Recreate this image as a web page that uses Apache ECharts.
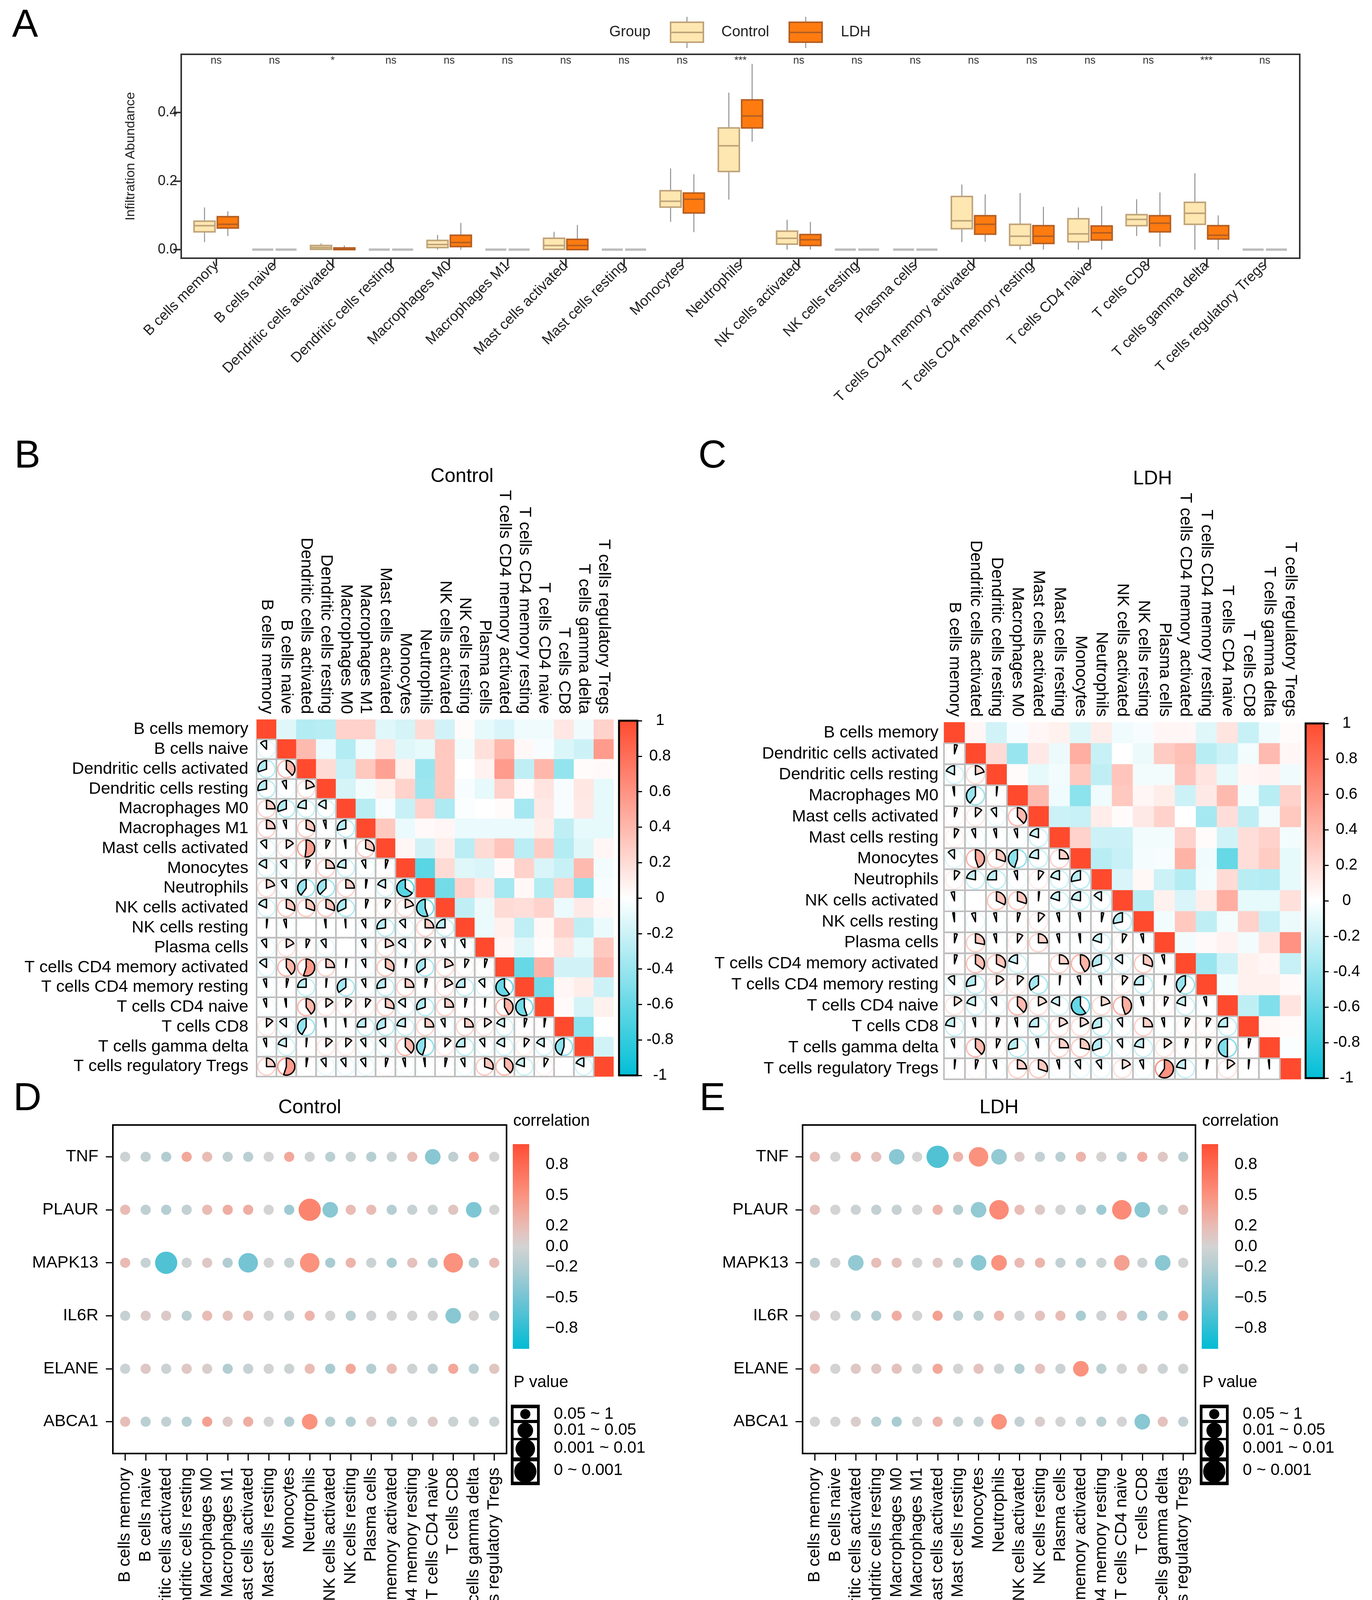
<!DOCTYPE html>
<html><head><meta charset="utf-8">
<script src="https://cdn.jsdelivr.net/npm/echarts@6/dist/echarts.min.js"></script>
<style>html,body{margin:0;padding:0;background:#fff;overflow:hidden}#c{width:3513px;height:4381px}</style>
</head><body><div id="c"></div><script>
// ---------------- DATA ----------------
const cellTypes = ['B cells memory','B cells naive','Dendritic cells activated','Dendritic cells resting','Macrophages M0','Macrophages M1','Mast cells activated','Mast cells resting','Monocytes','Neutrophils','NK cells activated','NK cells resting','Plasma cells','T cells CD4 memory activated','T cells CD4 memory resting','T cells CD4 naive','T cells CD8','T cells gamma delta','T cells regulatory Tregs'];
const sigLabels = ['ns','ns','*','ns','ns','ns','ns','ns','ns','***','ns','ns','ns','ns','ns','ns','ns','***','ns'];
// [lower whisker, Q1, median, Q3, upper whisker]
const controlBox = [[0.022,0.052,0.070,0.083,0.123],[0,0,0,0,0],[0,0.001,0.006,0.012,0.018],[0,0,0,0,0],[0,0.006,0.015,0.027,0.043],[0,0,0,0,0],[0,0.001,0.012,0.033,0.052],[0,0,0,0,0],[0.081,0.124,0.141,0.172,0.237],[0.146,0.228,0.303,0.355,0.458],[0,0.016,0.033,0.054,0.087],[0,0,0,0,0],[0,0,0,0,0],[0.022,0.061,0.084,0.155,0.190],[0,0.013,0.039,0.074,0.165],[0,0.023,0.046,0.090,0.123],[0.040,0.070,0.088,0.102,0.147],[0,0.074,0.106,0.138,0.223],[0,0,0,0,0]];
const ldhBox = [[0.040,0.063,0.074,0.096,0.112],[0,0,0,0,0],[0,0,0.002,0.005,0.012],[0,0,0,0,0],[0,0.009,0.021,0.042,0.078],[0,0,0,0,0],[0,0,0.012,0.030,0.072],[0,0,0,0,0],[0.051,0.107,0.147,0.165,0.220],[0.315,0.355,0.390,0.437,0.542],[0,0.012,0.029,0.044,0.081],[0,0,0,0,0],[0,0,0,0,0],[0.023,0.045,0.074,0.099,0.161],[0,0.018,0.039,0.070,0.125],[0,0.028,0.049,0.069,0.127],[0.009,0.052,0.077,0.099,0.167],[0,0.031,0.042,0.070,0.100],[0,0,0,0,0]];
const yTicksA = [0, 0.2, 0.4];

const cellsB = ['B cells memory','B cells naive','Dendritic cells activated','Dendritic cells resting','Macrophages M0','Macrophages M1','Mast cells activated','Monocytes','Neutrophils','NK cells activated','NK cells resting','Plasma cells','T cells CD4 memory activated','T cells CD4 memory resting','T cells CD4 naive','T cells CD8','T cells gamma delta','T cells regulatory Tregs'];
const corrB_upper = [
 [-0.12,-0.3,-0.28,0.25,0.25,-0.12,-0.17,0.2,-0.18,0.02,-0.1,-0.15,-0.06,-0.06,0.13,-0.06,0.25],
 [0.38,-0.08,-0.3,-0.06,0.15,-0.12,-0.1,0.3,-0.05,0.17,0.4,0.04,-0.03,-0.14,-0.2,0.55],
 [0.2,-0.22,0.3,0.52,0.08,-0.4,0.3,0.0,0.07,0.55,-0.25,0.4,-0.42,0.02,0.03],
 [-0.17,-0.05,0.08,0.25,-0.38,0.3,-0.03,-0.1,0.25,0.02,0.15,-0.03,0.13,-0.1],
 [-0.28,-0.03,-0.22,0.25,-0.32,-0.02,0.0,0.02,-0.35,0.12,-0.03,0.12,-0.1],
 [0.3,-0.08,0.03,0.05,-0.08,-0.08,-0.08,-0.08,0.1,-0.25,-0.1,-0.1],
 [0.05,-0.18,0.1,-0.27,0.2,0.32,-0.27,0.28,-0.3,-0.12,0.05],
 [-0.65,0.2,-0.12,-0.15,0.03,0.25,-0.15,-0.22,0.38,-0.05],
 [-0.55,0.25,0.12,-0.35,0.04,-0.3,0.25,-0.45,-0.03],
 [-0.25,-0.07,0.2,0.18,0.25,-0.08,0.12,0.04],
 [-0.08,0.08,-0.25,0.04,0.25,-0.25,-0.08],
 [0.05,-0.12,0.02,0.15,-0.1,0.3],
 [-0.6,0.42,-0.18,-0.18,0.38],
 [-0.55,0.05,0.1,-0.2],
 [0.03,-0.17,0.08],
 [-0.45,0.0],
 [-0.18]
];
const cellsC = ['B cells memory','Dendritic cells activated','Dendritic cells resting','Macrophages M0','Mast cells activated','Mast cells resting','Monocytes','Neutrophils','NK cells activated','NK cells resting','Plasma cells','T cells CD4 memory activated','T cells CD4 memory resting','T cells CD4 naive','T cells CD8','T cells gamma delta','T cells regulatory Tregs'];
const corrC_upper = [
 [0.05,-0.18,-0.03,0.05,0.08,-0.12,0.1,-0.06,-0.03,0.05,0.05,-0.12,0.15,-0.22,-0.06,0.02],
 [0.2,-0.4,0.12,-0.07,0.45,-0.22,0.0,-0.07,0.28,0.35,-0.28,-0.2,-0.05,0.38,0.05],
 [0.02,-0.1,-0.05,0.3,-0.25,0.32,-0.05,-0.05,0.32,0.15,-0.1,0.05,0.07,-0.06],
 [0.38,-0.06,-0.45,-0.06,0.3,0.05,0.1,-0.2,0.12,0.38,-0.05,-0.28,0.25],
 [-0.2,-0.22,0.1,0.02,0.12,0.25,0.0,-0.35,0.18,-0.25,-0.05,0.3],
 [0.25,-0.2,-0.2,-0.05,-0.05,0.25,0.02,-0.18,0.18,0.25,-0.05],
 [-0.28,-0.22,-0.04,-0.03,0.42,-0.06,-0.6,0.18,0.28,-0.1],
 [-0.15,0.04,-0.2,-0.3,-0.05,0.2,-0.28,-0.3,-0.1],
 [-0.28,0.08,-0.15,0.1,0.45,-0.1,-0.1,0.17],
 [-0.05,0.3,-0.25,-0.05,0.25,-0.22,-0.07],
 [-0.05,0.03,0.07,-0.05,0.15,0.6],
 [-0.4,-0.2,0.08,0.05,-0.22],
 [-0.05,0.08,0.08,0.03],
 [-0.25,-0.5,0.15],
 [0.04,0.02],
 [-0.02]
];
const corrBarTicks = [-1,-0.8,-0.6,-0.4,-0.2,0,0.2,0.4,0.6,0.8,1];

const genes = ['TNF','PLAUR','MAPK13','IL6R','ELANE','ABCA1'];
const ctrlTNF    = [-0.05,-0.12,-0.2,0.35,0.2,-0.12,-0.15,0.0,0.35,-0.03,-0.15,-0.08,-0.18,-0.08,0.18,-0.4,-0.12,0.35,0.0];
const ctrlPLAUR  = [0.2,-0.12,-0.18,-0.1,0.2,0.3,0.3,0.0,-0.3,0.6,-0.4,0.2,0.2,-0.18,-0.08,-0.05,0.12,-0.45,0.0];
const ctrlMAPK13 = [0.2,-0.08,-0.65,-0.03,0.1,-0.2,-0.5,0.0,-0.08,0.5,-0.25,0.25,-0.05,-0.25,0.15,-0.2,0.5,-0.2,0.2];
const ctrlIL6R   = [-0.08,0.08,0.08,-0.15,0.2,0.15,0.18,0.0,-0.06,0.25,0.0,-0.15,-0.03,0.0,0.0,-0.02,-0.4,0.02,-0.1];
const ctrlELANE  = [-0.05,0.1,-0.05,0.1,0.05,-0.2,-0.08,0.0,-0.05,0.2,-0.25,0.35,-0.18,0.2,-0.03,-0.12,0.35,-0.15,0.12];
const ctrlABCA1  = [0.18,-0.15,-0.1,-0.18,0.4,0.08,0.3,0.0,-0.2,0.5,-0.18,-0.2,0.1,-0.15,-0.05,0.08,-0.05,-0.05,-0.05];
// P value class: 0 = 0.05~1, 1 = 0.01~0.05, 2 = 0.001~0.01, 3 = 0~0.001
const ctrlTNF_p    = [0,0,0,0,0,0,0,0,0,0,0,0,0,0,0,1,0,0,0];
const ctrlPLAUR_p  = [0,0,0,0,0,0,0,0,0,3,1,0,0,0,0,0,0,1,0];
const ctrlMAPK13_p = [0,0,3,0,0,0,2,0,0,2,0,0,0,0,0,0,2,0,0];
const ctrlIL6R_p   = [0,0,0,0,0,0,0,0,0,0,0,0,0,0,0,0,1,0,0];
const ctrlELANE_p  = [0,0,0,0,0,0,0,0,0,0,0,0,0,0,0,0,0,0,0];
const ctrlABCA1_p  = [0,0,0,0,0,0,0,0,0,1,0,0,0,0,0,0,0,0,0];
const ldhTNF    = [0.2,0.0,0.25,0.15,-0.4,0.0,-0.65,0.25,0.5,-0.35,0.08,-0.1,-0.15,0.25,0.02,-0.15,0.3,0.1,-0.15];
const ldhPLAUR  = [0.15,0.0,-0.05,-0.1,-0.08,0.0,0.25,-0.2,-0.35,0.55,0.2,0.08,0.0,-0.1,-0.3,0.55,-0.4,-0.15,0.12];
const ldhMAPK13 = [-0.15,0.0,-0.35,0.18,0.15,0.0,0.1,-0.15,-0.4,0.5,0.2,0.25,-0.1,-0.15,-0.05,0.4,-0.05,-0.4,0.0];
const ldhIL6R   = [0.08,0.0,-0.15,-0.2,0.3,0.0,0.4,-0.15,-0.15,0.25,-0.03,0.15,0.2,-0.25,-0.03,0.15,-0.25,-0.18,0.35];
const ldhELANE  = [0.2,0.0,0.1,0.1,0.15,0.0,0.35,0.0,0.15,-0.05,-0.2,0.15,-0.05,0.5,-0.15,0.0,0.05,-0.05,-0.03];
const ldhABCA1  = [0.0,0.0,0.05,-0.18,-0.25,0.0,0.25,-0.08,-0.08,0.5,-0.1,0.05,0.0,-0.08,-0.15,0.0,-0.4,0.15,-0.1];
const ldhTNF_p    = [0,0,0,0,1,0,3,0,2,1,0,0,0,0,0,0,0,0,0];
const ldhPLAUR_p  = [0,0,0,0,0,0,0,0,1,2,0,0,0,0,0,2,1,0,0];
const ldhMAPK13_p = [0,0,1,0,0,0,0,0,1,1,0,0,0,0,0,1,0,1,0];
const ldhIL6R_p   = [0,0,0,0,0,0,0,0,0,0,0,0,0,0,0,0,0,0,0];
const ldhELANE_p  = [0,0,0,0,0,0,0,0,0,0,0,0,0,1,0,0,0,0,0];
const ldhABCA1_p  = [0,0,0,0,0,0,0,0,0,1,0,0,0,0,0,0,1,0,0];
const bubbleTicks = [-0.8,-0.5,-0.2,0,0.2,0.5,0.8];
const pLevels = ['0.05 ~ 1','0.01 ~ 0.05','0.001 ~ 0.01','0 ~ 0.001'];

// ---------------- HELPERS ----------------
const FONT = "'Liberation Sans', Arial, Helvetica, sans-serif";
function interp(stops, v){
  if (v <= stops[0][0]) return stops[0][1];
  for (let k=1;k<stops.length;k++){
    if (v <= stops[k][0]){
      const a=stops[k-1], b=stops[k], t=(v-a[0])/(b[0]-a[0]);
      return a[1].map((c,i)=>Math.round(c+(b[1][i]-c)*t));
    }
  }
  return stops[stops.length-1][1];
}
const corrStops = [[-1,[0,190,214]],[0,[255,255,255]],[1,[255,74,46]]];
const bubStops = [[-1,[0,188,212]],[-0.5,[116,196,212]],[-0.2,[178,205,210]],[0,[211,211,211]],[0.2,[233,187,180]],[0.5,[250,146,126]],[1,[255,77,51]]];
const rgb = a => 'rgb('+a.join(',')+')';
const corrColor = v => rgb(interp(corrStops, v));
const bubColor = v => rgb(interp(bubStops, v));
function fullMatrix(n, upper){
  const m=[]; for(let i=0;i<n;i++){m.push(new Array(n).fill(1));}
  for(let i=0;i<n;i++) for(let j=i+1;j<n;j++){ m[i][j]=m[j][i]=upper[i][j-i-1]; }
  return m;
}
function gradientStops(fn){
  const s=[]; for(let k=0;k<=40;k++){ const v=1-2*k/40; s.push({offset:k/40, color:fn(v)}); } return s;
}
const pSizes = [26, 40, 50, 57];

const grids=[], xAxes=[], yAxes=[], series=[], graphics=[];
function addGrid(g){grids.push(g); return grids.length-1;}
function txt(text, x, y, size, opt){
  opt = opt||{};
  graphics.push({type:'text', z:100, style:{text, x, y, fill:opt.color||'#000', fontSize:size, fontFamily:FONT,
    textAlign:opt.align||'center', textVerticalAlign:'middle', align:opt.align||'center', verticalAlign:'middle', fontWeight:opt.weight||'normal'}});
}
const noLine = {show:false, onZero:false};

// ---------------- PANEL A ----------------
const gA = addGrid({left:464, top:139, width:2864, height:522, show:true, borderColor:'#333', borderWidth:4, backgroundColor:'transparent'});
const idxA = cellTypes.map((_,i)=>i);
xAxes.push({gridIndex:gA, type:'value', min:-0.6, max:18.6, position:'bottom', axisLine:noLine, splitLine:{show:false},
  axisTick:{show:true, length:20, lineStyle:{color:'#333', width:4}, customValues:idxA},
  axisLabel:{customValues:idxA, formatter:v=>cellTypes[Math.round(v)], rotate:45, fontSize:37, color:'#222', margin:14, fontFamily:FONT}});
const xA = xAxes.length-1;
yAxes.push({gridIndex:gA, type:'value', min:-0.025, max:0.57, position:'left', axisLine:noLine, splitLine:{show:false},
  axisTick:{show:true, length:20, lineStyle:{color:'#333', width:4}, customValues:yTicksA},
  axisLabel:{customValues:yTicksA, formatter:v=>v.toFixed(1), fontSize:36, color:'#222', margin:10, fontFamily:FONT},
  name:'Infiltration Abundance', nameLocation:'middle', nameGap:112, nameTextStyle:{fontSize:34, color:'#222', fontFamily:FONT}});
const yA = yAxes.length-1;
function boxRender(fill, stroke, med){
  return function(params, api){
    const x=api.value(0), lo=api.value(1), q1=api.value(2), md=api.value(3), q3=api.value(4), hi=api.value(5);
    const hw = api.size([0.36,0])[0]/2;
    const pLo=api.coord([x,lo]), pQ1=api.coord([x,q1]), pMd=api.coord([x,md]), pQ3=api.coord([x,q3]), pHi=api.coord([x,hi]);
    const cx=pMd[0];
    if (hi-lo < 1e-9) return {type:'line', shape:{x1:cx-hw,y1:pMd[1],x2:cx+hw,y2:pMd[1]}, style:{stroke:'#BDBDBD', lineWidth:6}};
    return {type:'group', children:[
      {type:'line', shape:{x1:cx,y1:pHi[1],x2:cx,y2:pQ3[1]}, style:{stroke:'#8f8f8f', lineWidth:2.5}},
      {type:'line', shape:{x1:cx,y1:pQ1[1],x2:cx,y2:pLo[1]}, style:{stroke:'#8f8f8f', lineWidth:2.5}},
      {type:'rect', shape:{x:cx-hw, y:pQ3[1], width:2*hw, height:Math.max(pQ1[1]-pQ3[1],1.5)}, style:{fill:fill, stroke:stroke, lineWidth:4}},
      {type:'line', shape:{x1:cx-hw,y1:pMd[1],x2:cx+hw,y2:pMd[1]}, style:{stroke:med, lineWidth:4}}
    ]};
  };
}
series.push({type:'custom', name:'Control', xAxisIndex:xA, yAxisIndex:yA, encode:{x:0,y:[1,2,3,4,5]},
  data:controlBox.map((b,i)=>[i-0.2].concat(b)), renderItem:boxRender('#FFE7B1','#BFA37A','#BFA37A'), silent:true});
series.push({type:'custom', name:'LDH', xAxisIndex:xA, yAxisIndex:yA, encode:{x:0,y:[1,2,3,4,5]},
  data:ldhBox.map((b,i)=>[i+0.2].concat(b)), renderItem:boxRender('#FF7B10','#B55E22','#B55E22'), silent:true});
series.push({type:'custom', name:'sig', xAxisIndex:xA, yAxisIndex:yA, encode:{x:0,y:1},
  data:sigLabels.map((s,i)=>[i,0.551]), silent:true,
  renderItem:function(params, api){
    const c=api.coord([api.value(0), api.value(1)]);
    return {type:'text', style:{text:sigLabels[params.dataIndex], x:c[0], y:c[1], fill:'#333', fontSize:27, fontFamily:FONT, textAlign:'center', textVerticalAlign:'middle', align:'center', verticalAlign:'middle'}};
  }});
// legend A
txt('Group', 1560, 83, 38, {align:'left', color:'#222'});
function legendKey(x0, fill, stroke){
  graphics.push({type:'line', shape:{x1:x0+42,y1:43,x2:x0+42,y2:123}, style:{stroke:'#8f8f8f', lineWidth:2.5}});
  graphics.push({type:'rect', shape:{x:x0,y:57,width:84,height:51}, style:{fill, stroke, lineWidth:4}});
  graphics.push({type:'line', shape:{x1:x0,y1:83,x2:x0+84,y2:83}, style:{stroke, lineWidth:4}});
}
legendKey(1717, '#FFE7B1', '#BFA37A');
txt('Control', 1847, 83, 38, {align:'left', color:'#222'});
legendKey(2021, '#FF7B10', '#B55E22');
txt('LDH', 2153, 83, 38, {align:'left', color:'#222'});

// ---------------- PANELS B, C (correlation matrices) ----------------
function matrixPanel(cells, upper, left, top, size, barLeft, labelMargin){
  const n = cells.length;
  const m = fullMatrix(n, upper);
  const g = addGrid({left, top, width:size, height:size});
  xAxes.push({gridIndex:g, type:'category', data:cells, position:'top', axisLine:noLine, axisTick:{show:false}, splitLine:{show:false},
    axisLabel:{interval:0, rotate:90, fontSize:43, color:'#000', margin:14, fontFamily:FONT}});
  const xi = xAxes.length-1;
  yAxes.push({gridIndex:g, type:'category', data:cells, inverse:true, axisLine:noLine, axisTick:{show:false}, splitLine:{show:false},
    axisLabel:{interval:0, fontSize:43, color:'#000', margin:labelMargin, fontFamily:FONT}});
  const yi = yAxes.length-1;
  const all=[], lower=[];
  for(let i=0;i<n;i++) for(let j=0;j<n;j++){ all.push([j,i,m[i][j]]); if(j<i) lower.push([j,i,m[i][j]]); }
  series.push({type:'custom', xAxisIndex:xi, yAxisIndex:yi, encode:{x:0,y:1}, data:all, silent:true, z:2,
    renderItem:function(params, api){
      const j=api.value(0), i=api.value(1), r=api.value(2);
      const c=api.coord([j,i]), s=api.size([1,1]);
      if (j>=i) return {type:'rect', shape:{x:c[0]-s[0]/2-0.3, y:c[1]-s[1]/2-0.3, width:s[0]+0.6, height:s[1]+0.6}, style:{fill:corrColor(r)}};
      return {type:'rect', shape:{x:c[0]-s[0]/2, y:c[1]-s[1]/2, width:s[0], height:s[1]}, style:{fill:'#fff'}};
    }});
  series.push({type:'custom', xAxisIndex:xi, yAxisIndex:yi, encode:{x:0,y:1}, data:lower, silent:true, z:3,
    renderItem:function(params, api){
      const j=api.value(0), i=api.value(1), r=api.value(2);
      const c=api.coord([j,i]), s=api.size([1,1]);
      const col=corrColor(r), rad=Math.min(s[0],s[1])*0.43;
      const ch=[
        {type:'rect', shape:{x:c[0]-s[0]/2, y:c[1]-s[1]/2, width:s[0], height:s[1]}, style:{fill:'none', stroke:'#BEBEBE', lineWidth:4}},
        {type:'circle', shape:{cx:c[0], cy:c[1], r:rad}, style:{fill:'none', stroke:col, lineWidth:3.5}}
      ];
      if (Math.abs(r)>0.015){
        const a0=-Math.PI/2, a1=a0+(r>0?1:-1)*2*Math.PI*Math.abs(r);
        ch.push({type:'sector', shape:{cx:c[0], cy:c[1], r:rad, r0:0, startAngle:a0, endAngle:a1, clockwise:r>0}, style:{fill:col, stroke:'#000', lineWidth:3.5, lineJoin:'round'}});
      }
      return {type:'group', children:ch};
    }});
  // colour bar
  const gb = addGrid({left:barLeft, top:top+3, width:47, height:size-6});
  xAxes.push({gridIndex:gb, type:'value', min:0, max:1, show:false});
  const xb = xAxes.length-1;
  yAxes.push({gridIndex:gb, type:'value', min:-1, max:1, position:'right', axisLine:noLine, splitLine:{show:false},
    axisTick:{show:true, length:12, lineStyle:{color:'#000', width:3}, customValues:corrBarTicks},
    axisLabel:{customValues:corrBarTicks, formatter:v=>String(Math.round(v*10)/10), fontSize:40, color:'#000', margin:58, align:'center', fontFamily:FONT}});
  const yb = yAxes.length-1;
  series.push({type:'custom', xAxisIndex:xb, yAxisIndex:yb, encode:{x:0,y:1}, data:[[0,-1]], silent:true,
    renderItem:function(params, api){
      const p1=api.coord([0,1]), p2=api.coord([1,-1]);
      return {type:'rect', shape:{x:p1[0], y:p1[1], width:p2[0]-p1[0], height:p2[1]-p1[1]},
        style:{fill:new echarts.graphic.LinearGradient(0,0,0,1,gradientStops(corrColor)), stroke:'#000', lineWidth:5}};
    }});
}
matrixPanel(cellsB, corrB_upper, 657, 1842, 914, 1585, 21);
matrixPanel(cellsC, corrC_upper, 2417, 1849, 914, 3343, 14);
txt('Control', 1183, 1220, 50);
txt('LDH', 2951, 1226, 50);

// ---------------- PANELS D, E (bubble plots) ----------------
function bubblePanel(corrRows, pRows, left, width, labelMargin, legLeft, title){
  const g = addGrid({left, top:2880, width, height:841, show:true, borderColor:'#000', borderWidth:4, backgroundColor:'transparent'});
  const idx = cellTypes.map((_,i)=>i), gidx = genes.map((_,i)=>i);
  xAxes.push({gridIndex:g, type:'value', min:-0.6, max:18.6, position:'bottom', axisLine:noLine, splitLine:{show:false},
    axisTick:{show:true, length:18, lineStyle:{color:'#000', width:3}, customValues:idx},
    axisLabel:{customValues:idx, formatter:v=>cellTypes[Math.round(v)], rotate:90, fontSize:43, color:'#000', margin:36, fontFamily:FONT}});
  const xi = xAxes.length-1;
  yAxes.push({gridIndex:g, type:'value', min:-0.6, max:5.6, inverse:true, position:'left', axisLine:noLine, splitLine:{show:false},
    axisTick:{show:true, length:18, lineStyle:{color:'#000', width:3}, customValues:gidx},
    axisLabel:{customValues:gidx, formatter:v=>genes[Math.round(v)], fontSize:43, color:'#000', margin:labelMargin, fontFamily:FONT}});
  const yi = yAxes.length-1;
  const data=[];
  corrRows.forEach((row,gi)=>row.forEach((r,ci)=>data.push([ci,gi,r,pRows[gi][ci]])));
  series.push({type:'scatter', xAxisIndex:xi, yAxisIndex:yi, data, symbol:'circle', silent:true,
    symbolSize:v=>pSizes[v[3]], itemStyle:{color:p=>bubColor(p.value[2]), opacity:1}});
  // legend colour bar
  const gb = addGrid({left:legLeft, top:2929, width:42, height:524});
  xAxes.push({gridIndex:gb, type:'value', min:0, max:1, show:false});
  const xb = xAxes.length-1;
  yAxes.push({gridIndex:gb, type:'value', min:-1, max:1, position:'right', axisLine:noLine, splitLine:{show:false},
    axisTick:{show:true, inside:true, length:9, lineStyle:{color:'#fff', width:2.5}, customValues:bubbleTicks},
    axisLabel:{customValues:bubbleTicks, formatter:v=>(v<0?'\u2212':'')+Math.abs(v).toFixed(1), fontSize:42, color:'#000', margin:42, align:'left', fontFamily:FONT}});
  const yb = yAxes.length-1;
  yAxes.push({gridIndex:gb, type:'value', min:-1, max:1, position:'left', axisLine:noLine, splitLine:{show:false},
    axisTick:{show:true, inside:true, length:9, lineStyle:{color:'#fff', width:2.5}, customValues:bubbleTicks},
    axisLabel:{show:false}});
  series.push({type:'custom', xAxisIndex:xb, yAxisIndex:yb, encode:{x:0,y:1}, data:[[0,-1]], silent:true, z:1,
    renderItem:function(params, api){
      const p1=api.coord([0,1]), p2=api.coord([1,-1]);
      return {type:'rect', shape:{x:p1[0], y:p1[1], width:p2[0]-p1[0], height:p2[1]-p1[1]},
        style:{fill:new echarts.graphic.LinearGradient(0,0,0,1,gradientStops(bubColor))}};
    }});
  txt('correlation', legLeft+1, 2870, 42, {align:'left'});
  txt('P value', legLeft+2, 3539, 42, {align:'left'});
  // P value size legend
  const bx = legLeft-5;
  graphics.push({type:'rect', shape:{x:bx, y:3596, width:74, height:206}, style:{fill:'#000'}});
  const keyY=[3620,3662,3709,3767], keyH=[30,38,44,52], labY=[3620,3661,3707,3764];
  for(let k=0;k<4;k++){
    graphics.push({type:'rect', shape:{x:bx+7, y:keyY[k]-keyH[k]/2, width:60, height:keyH[k]}, style:{fill:'#fff'}});
    graphics.push({type:'circle', shape:{cx:bx+37, cy:keyY[k], r:pSizes[k]/2}, style:{fill:'#000'}});
    txt(pLevels[k], legLeft+105, labY[k], 42, {align:'left'});
  }
  txt(title, left+width/2, 2836, 50);
}
bubblePanel([ctrlTNF,ctrlPLAUR,ctrlMAPK13,ctrlIL6R,ctrlELANE,ctrlABCA1],
            [ctrlTNF_p,ctrlPLAUR_p,ctrlMAPK13_p,ctrlIL6R_p,ctrlELANE_p,ctrlABCA1_p], 289, 1008, 37, 1313, 'Control');
bubblePanel([ldhTNF,ldhPLAUR,ldhMAPK13,ldhIL6R,ldhELANE,ldhABCA1],
            [ldhTNF_p,ldhPLAUR_p,ldhMAPK13_p,ldhIL6R_p,ldhELANE_p,ldhABCA1_p], 2055, 1006, 36, 3077, 'LDH');

// panel letters
txt('A', 64, 66, 100); txt('B', 70, 1169, 100); txt('C', 1824, 1169, 100); txt('D', 70, 2814, 100); txt('E', 1824, 2814, 100);

const chart = echarts.init(document.getElementById('c'), null, {renderer:'canvas', width:3513, height:4381});
chart.setOption({
  animation:false, backgroundColor:'#fff', textStyle:{fontFamily:FONT},
  grid:grids, xAxis:xAxes, yAxis:yAxes, series, graphic:{elements:graphics}
});
</script></body></html>
